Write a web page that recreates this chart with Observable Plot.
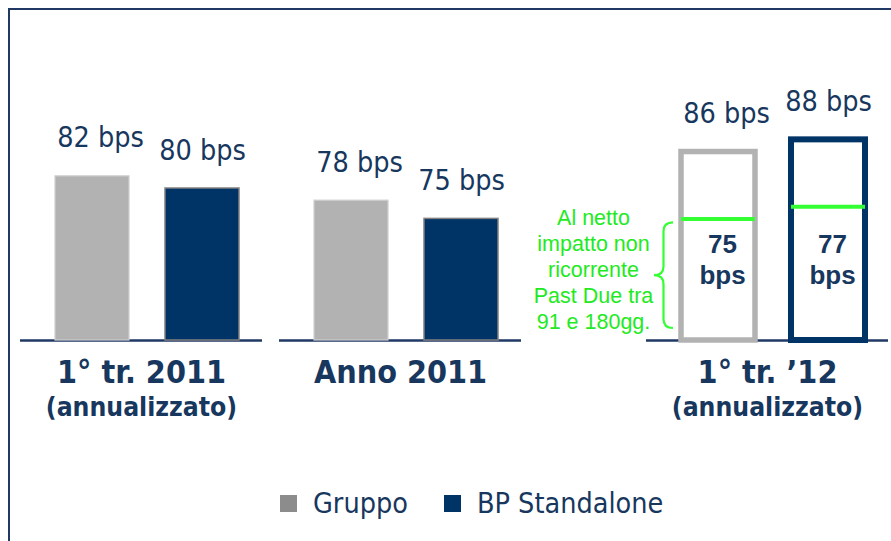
<!DOCTYPE html>
<html>
<head>
<meta charset="utf-8">
<script src="https://cdn.jsdelivr.net/npm/d3@7"></script>
<script src="https://cdn.jsdelivr.net/npm/@observablehq/plot@0.6"></script>
<style>
  body { margin: 0; background: #fff; }
  #wrap { position: relative; width: 891px; height: 541px; overflow: hidden; background: #fff;
          font-family: "DejaVu Sans Condensed", "DejaVu Sans", sans-serif; }
  #frame { position: absolute; left: 8px; top: 8px; width: 900px; height: 600px;
           border-top: 2px solid #1f3864; border-left: 2px solid #1f3864; }
  .panel { position: absolute; top: 0; }
  .panel svg { overflow: visible; }
  #legend { position: absolute; left: 280px; top: 487px; }
  #legend span > svg { margin-right: 16px !important; }
  #legend span { margin-right: 36px !important; }
</style>
</head>
<body>
<div id="wrap">
  <div id="frame"></div>
  <div class="panel" id="p0"></div>
  <div class="panel" id="p1"></div>
  <div class="panel" id="p2"></div>
  <div id="legend"></div>
</div>
<script>
// ---- data ----
const periods = ["1° tr. 2011", "Anno 2011", "1° tr. ’12"];
const periodNotes = ["(annualizzato)", "", "(annualizzato)"];
const series = ["Gruppo", "BP Standalone"];
const gruppo = [82, 78, 86];
const standalone = [80, 75, 88];
const netOfNonRecurring = [75, 77]; // 1° tr. '12: Gruppo, BP Standalone
const annotationText = "Al netto\nimpatto non\nricorrente\nPast Due tra\n91 e 180gg.";
const unit = "bps";

// ---- styles ----
const navy = "#003366", gray = "#b2b2b2", textNavy = "#17375e", lineNavy = "#1f3864";
const green = "#33ff33", greenText = "#22ea22";
const fontMain = "DejaVu Sans Condensed, DejaVu Sans, sans-serif";
const fontArial = "Liberation Sans, Arial, sans-serif";

const yDomain = [55, 95];
const baseY = 340, pxPerBps = 6.08, H = 430;
const mTop = baseY - (yDomain[1] - yDomain[0]) * pxPerBps;

function braceMark(index, scales) {
  try {
    const x = scales.x, y = scales.y;
    const x0 = x(series[0]);
    const top = y(netOfNonRecurring[0]) + 4;
    const bot = y(yDomain[0]) - 12;
    const mid = (top + bot) / 2;
    const xr = x0 - 8, xm = x0 - 17.5, xl = x0 - 27, r = 9;
    const d = `M${xr},${top} Q${xm},${top} ${xm},${top + r} L${xm},${mid - r} Q${xm},${mid} ${xl},${mid}` +
              ` Q${xm},${mid} ${xm},${mid + r} L${xm},${bot - r} Q${xm},${bot} ${xr},${bot}`;
    const g = d3.create("svg:g");
    g.append("path").attr("d", d).attr("fill", "none").attr("stroke", green).attr("stroke-width", 2.2);
    return g.node();
  } catch (e) { return null; }
}

function makePanel(i, left, width, marginLeft) {
  const rows = series.map((s, j) => ({series: s, value: (j ? standalone : gruppo)[i]}));
  const isQ12 = i === 2;
  const marks = [Plot.ruleY([yDomain[0]], {stroke: lineNavy, strokeWidth: 2.5})];
  if (!isQ12) {
    marks.push(Plot.barY(rows.filter(d => d.series === series[0]),
      {x: "series", y1: yDomain[0], y2: "value", fill: gray, stroke: "#cfcfcf", strokeWidth: 1.2}));
    marks.push(Plot.barY(rows.filter(d => d.series === series[1]),
      {x: "series", y1: yDomain[0], y2: "value", fill: navy, stroke: "#808080", strokeWidth: 1.5}));
  } else {
    marks.push(Plot.barY(rows.filter(d => d.series === series[0]),
      {x: "series", y1: yDomain[0], y2: "value", fill: "white", stroke: gray, strokeWidth: 5.5}));
    marks.push(Plot.barY(rows.filter(d => d.series === series[1]),
      {x: "series", y1: yDomain[0], y2: "value", fill: "white", stroke: navy, strokeWidth: 6}));
    const netRows = series.map((s, j) => ({series: s, value: netOfNonRecurring[j]}));
    marks.push(Plot.tickY(netRows, {x: "series", y: "value", stroke: green, strokeWidth: 4}));
    marks.push(Plot.text(netRows, {x: "series", y: () => yDomain[0], text: d => `${d.value}\n${unit}`,
      lineAnchor: "bottom", lineHeight: 1.19, dy: -57, dx: 4, fontSize: 26, fontWeight: "bold",
      fontFamily: fontArial, fill: textNavy}));
    marks.push(Plot.text([{t: annotationText, v: yDomain[0]}], {frameAnchor: "left", y: "v", text: "t",
      lineAnchor: "bottom", lineHeight: 1.2, dy: -12, dx: -53, textAnchor: "middle",
      fontSize: 21.5, fontFamily: fontArial, fill: greenText}));
    marks.push(braceMark);
  }
  marks.push(Plot.text(rows.filter(d => d.series === series[0]),
    {x: "series", y: "value", text: d => `${d.value} ${unit}`, lineAnchor: "bottom", dy: -29, dx: 8,
     fontSize: 28.5, fill: textNavy}));
  marks.push(Plot.text(rows.filter(d => d.series === series[1]),
    {x: "series", y: "value", text: d => `${d.value} ${unit}`, lineAnchor: "bottom", dy: -29, dx: 0,
     fontSize: 28.5, fill: textNavy}));
  marks.push(Plot.text([periods[i]], {frameAnchor: "bottom", text: d => d, lineAnchor: "bottom", dy: 42,
     fontSize: 32, fontWeight: "bold", fill: textNavy}));
  if (periodNotes[i]) {
    marks.push(Plot.text([periodNotes[i]], {frameAnchor: "bottom", text: d => d, lineAnchor: "bottom", dy: 75,
       fontSize: 26.3, fontWeight: "bold", fill: textNavy}));
  }
  const chart = Plot.plot({
    width, height: H,
    marginLeft, marginRight: 0, marginTop: mTop, marginBottom: H - baseY,
    style: {fontFamily: fontMain, background: "transparent", overflow: "visible"},
    x: {domain: series, range: [marginLeft + 34, marginLeft + 220], paddingInner: 0.324, paddingOuter: 0, axis: null},
    y: {domain: yDomain, axis: null},
    marks
  });
  const holder = document.getElementById("p" + i);
  holder.style.left = left + "px";
  holder.appendChild(chart);
}

makePanel(0, 20, 242, 0);
makePanel(1, 279, 242, 0);
makePanel(2, 526, 362, 120);

const legend = Plot.legend({
  color: {type: "categorical", domain: series, range: ["#8c8c8c", navy]},
  swatchSize: 17,
  style: {fontFamily: fontMain, fontSize: "28.5px", color: textNavy, marginBottom: "0"}
});
document.getElementById("legend").appendChild(legend);
</script>
</body>
</html>
